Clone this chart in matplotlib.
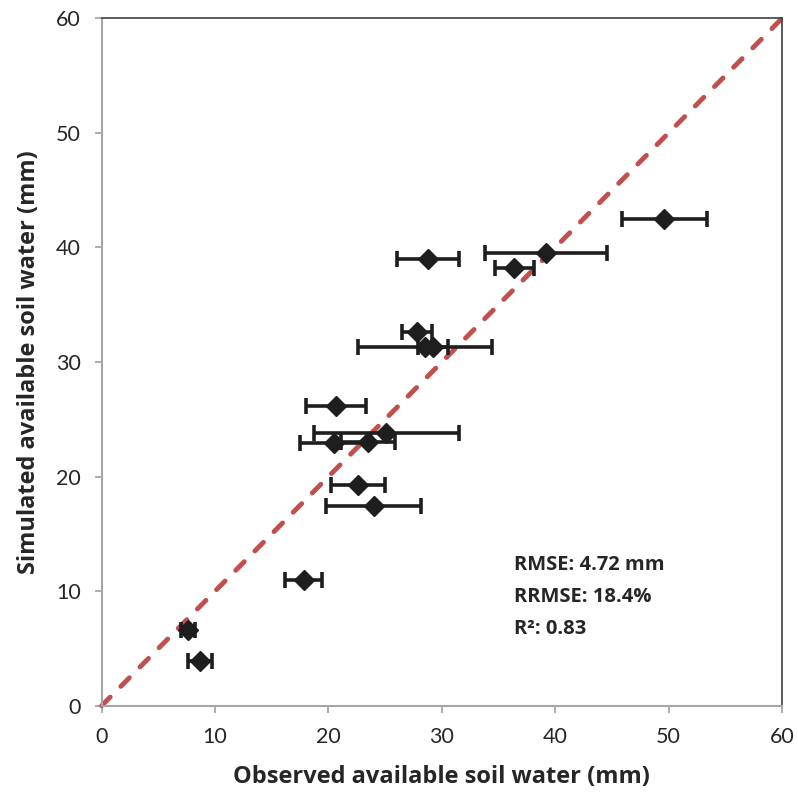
import matplotlib.pyplot as plt

# observed (x) vs simulated (y) available soil water, mm
obs = [49.6, 39.2, 36.4, 28.8, 27.8, 28.5, 29.2, 20.7, 25.1, 20.5, 23.5, 22.6, 24.0, 17.8, 7.6, 8.7]
sim = [42.45, 39.5, 38.2, 39.0, 32.6, 31.3, 31.3, 26.2, 23.8, 22.9, 23.0, 19.3, 17.4, 11.0, 6.6, 3.9]
obs_err = [3.75, 5.4, 1.75, 2.75, 1.35, 5.9, 1.3, 2.65, 6.4, 3.0, 2.35, 2.4, 4.2, 1.65, 0.6, 1.05]

stats = ["RMSE: 4.72 mm", "RRMSE: 18.4%", "R\u00b2: 0.83"]

plt.rcParams['font.family'] = ['Lato', 'DejaVu Sans']
bold_font = ['Open Sans', 'DejaVu Sans']

fig = plt.figure(figsize=(7.98, 7.96), dpi=100)
ax = fig.add_axes([0.1274, 0.1134, 0.8526, 0.8636])

# 1:1 line
ax.plot([0, 60], [0, 60], color="#c0504d", lw=3.5, linestyle=(0, (2.5, 3.1)),
        dash_capstyle="round", zorder=2, clip_on=False)

ax.errorbar(obs, sim, xerr=obs_err, fmt="D", color="#1e1e1e", ms=10,
            elinewidth=2.6, capsize=5.5, capthick=2.6, zorder=3)

ax.set_xlim(0, 60)
ax.set_ylim(0, 60)
ax.set_xticks(range(0, 61, 10))
ax.set_yticks(range(0, 61, 10))
ax.tick_params(direction="out", length=5, width=1.3, color="#a6a6a6",
               labelsize=15.5, labelcolor="#262626", pad=10)

for s in ["left", "bottom"]:
    ax.spines[s].set_color("#a6a6a6")
    ax.spines[s].set_linewidth(1.5)
for s in ["top", "right"]:
    ax.spines[s].set_color("#404040")
    ax.spines[s].set_linewidth(1.2)

ax.set_xlabel("Observed available soil water (mm)", fontsize=17, fontweight="bold",
              family=bold_font, color="#262626", labelpad=13)
ax.set_ylabel("Simulated available soil water (mm)", fontsize=17, fontweight="bold",
              family=bold_font, color="#262626", labelpad=11)

ax.text(36.4, 12.3, stats[0], fontsize=14.5, fontweight="bold", family=bold_font,
        color="#262626", va="center")
ax.text(36.4, 9.45, stats[1], fontsize=14.5, fontweight="bold", family=bold_font,
        color="#262626", va="center")
ax.text(36.4, 6.7, stats[2], fontsize=14.5, fontweight="bold", family=bold_font,
        color="#262626", va="center")

fig.savefig("out.png", dpi=100)
